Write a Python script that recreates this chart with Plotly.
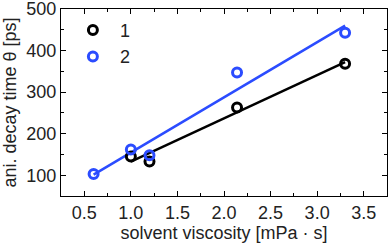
import numpy as np
import plotly.graph_objects as go

# data
x1 = [1.0, 1.2, 2.14, 3.3]
y1 = [145, 133, 263, 368]
x2 = [0.6, 1.0, 1.2, 2.14, 3.3]
y2 = [103, 162, 148, 347, 443]
names = ["1", "2"]
colors = ["#000000", "#2b4cff"]

fig = go.Figure()
for xs, ys, nm, c in [(x1, y1, names[0], colors[0]), (x2, y2, names[1], colors[1])]:
    p = np.polyfit(xs, ys, 1)
    xf = [min(xs), max(xs)]
    yf = list(np.polyval(p, xf))
    fig.add_trace(go.Scatter(x=xf, y=yf, mode="lines", line=dict(color=c, width=2.5),
                             showlegend=False, hoverinfo="skip", cliponaxis=False))
for xs, ys, nm, c in [(x1, y1, names[0], colors[0]), (x2, y2, names[1], colors[1])]:
    fig.add_trace(go.Scatter(x=xs, y=ys, mode="markers", name=nm,
                             marker=dict(symbol="circle-open", size=9, color=c,
                                         line=dict(width=3, color=c))))

axcommon = dict(showline=True, linecolor="black", linewidth=1.3, mirror="allticks",
                ticks="inside", ticklen=5, tickwidth=1.2, tickcolor="black",
                showgrid=False, zeroline=False, automargin=False,
                ticklabeloverflow="allow",
                tickfont=dict(size=18, color="#222"),
                title_font=dict(size=18, color="#222"))
fig.update_xaxes(range=[0.25, 3.75], dtick=0.5, tick0=0.5, tickformat=".1f",
                 minor=dict(ticks="inside", ticklen=3, dtick=0.25, tick0=0.25, tickcolor="black"),
                 title_text="solvent viscosity [mPa · s]", title_standoff=4, **axcommon)
fig.update_yaxes(range=[50, 500.01], dtick=100, tick0=0,
                 minor=dict(ticks="inside", ticklen=3, dtick=50, tick0=0, tickcolor="black"),
                 title_text="ani. decay time θ [ps]", title_standoff=4, **axcommon)

fig.update_layout(width=390, height=247, margin=dict(l=61, r=3, t=9, b=51),
                  paper_bgcolor="white", plot_bgcolor="white",
                  font=dict(family="Liberation Sans, Arial, sans-serif", color="#222"),
                  legend=dict(x=0.015, y=0.985, xanchor="left", yanchor="top",
                              bgcolor="rgba(0,0,0,0)", font=dict(size=18),
                              itemwidth=44, itemsizing="trace", tracegroupgap=0))
fig.write_html("out.html", config={"displayModeBar": False},
               post_script="document.body.style.margin='0';document.body.style.overflow='hidden';")
